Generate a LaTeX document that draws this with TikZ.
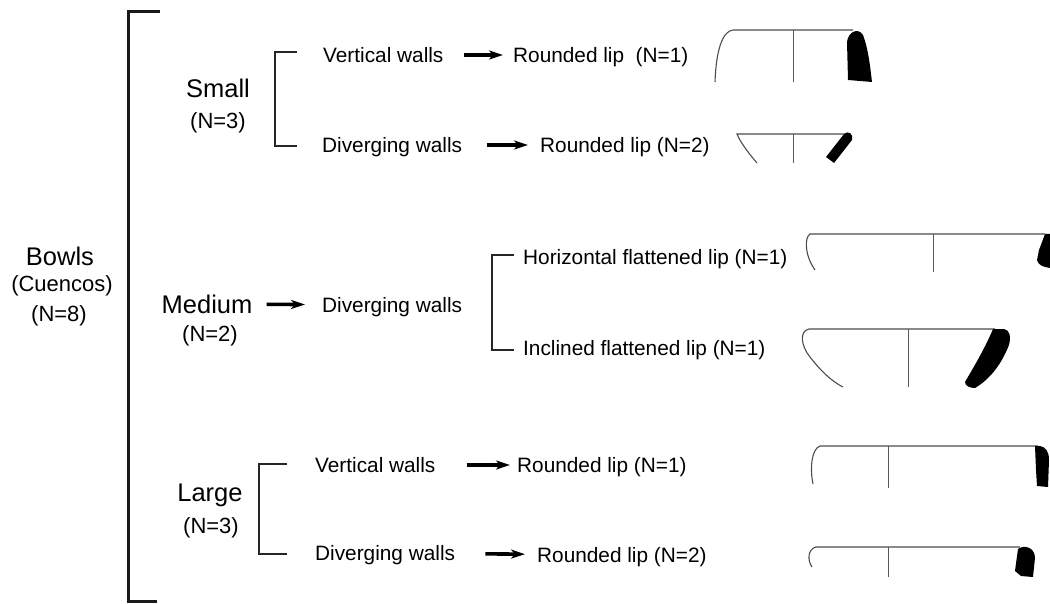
\documentclass[tikz,border=0pt]{standalone}
\usepackage{fontspec}
\setmainfont{Liberation Sans}
\usetikzlibrary{arrows.meta}
\tikzset{
	grp/.style={font=\fontsize{25.5}{28}\selectfont, inner sep=0pt, text height=18.3pt, text depth=0pt},
	cnt/.style={font=\fontsize{22}{25}\selectfont, inner sep=0pt, text height=15.8pt, text depth=0pt},
	lbl/.style={font=\fontsize{20.8}{24}\selectfont, inner sep=0pt, text height=14.9pt, text depth=0pt, anchor=west},
	arr/.style={line width=3.6pt, -{Stealth[length=14pt, width=9pt, inset=4pt]}},
	brk/.style={line width=1.8pt, color=black!85},
	bigbrk/.style={line width=3pt, color=black!90},
	wall/.style={line width=1.1pt, color=black!70},
	axis/.style={line width=0.9pt, color=black!65},
	sherd/.style={fill=black}
}
\begin{document}
\begin{tikzpicture}[x=1pt, y=-1pt]
		%%%%% START %%%%%
		\useasboundingbox (0, 0) rectangle (1050, 604);
		
		\node[grp] (bowls) at (60, 256) {Bowls};
		\node[cnt] (cuencos) at (62, 284) {(Cuencos)};
		\node[cnt] (bowlsN) at (59, 314) {(N=8)};
		\draw[bigbrk] (160, 12) -| (128, 601) -- (157, 601);
		
		\node[grp] (small) at (218, 88) {Small};
		\node[cnt] (smallN) at (218, 121) {(N=3)};
		\node[grp] (medium) at (207, 304) {Medium};
		\node[cnt] (mediumN) at (210, 334) {(N=2)};
		\node[grp] (large) at (210, 492) {Large};
		\node[cnt] (largeN) at (211, 526) {(N=3)};
		
		\node[lbl] (svw) at (323, 55) {Vertical walls};
		\node[lbl] (srl1) at (513, 55) {Rounded lip\ \ (N=1)};
		\node[lbl] (sdw) at (322, 145) {Diverging walls};
		\node[lbl] (srl2) at (540, 145) {Rounded lip (N=2)};
		\draw[brk] ([xshift=-26pt, yshift=3pt]svw.west) -- ++(-22, 0) |- ([xshift=-25pt, yshift=-1pt]sdw.west);
		\draw[arr, shorten <=20pt, shorten >=10pt] (svw) -- (srl1);
		\draw[arr, shorten <=25pt, shorten >=12pt] (sdw) -- (srl2);
		
		\node[lbl] (mdw) at (322, 305) {Diverging walls};
		\node[lbl] (mhl) at (523, 257) {Horizontal flattened lip (N=1)};
		\node[lbl] (mil) at (523, 348) {Inclined flattened lip (N=1)};
		\draw[arr, shorten <=14pt, shorten >=17pt] (medium) -- (mdw);
		\draw[brk] ([xshift=-9pt, yshift=2pt]mhl.west) -- ++(-22, 0) |- ([xshift=-9pt, yshift=-2pt]mil.west);
		
		\node[lbl] (lvw) at (315, 465) {Vertical walls};
		\node[lbl] (lrl1) at (517, 465) {Rounded lip (N=1)};
		\node[lbl] (ldw) at (315, 553) {Diverging walls};
		\node[lbl] (lrl2) at (537, 555) {Rounded lip (N=2)};
		\draw[brk] ([xshift=-28pt, yshift=1pt]lvw.west) -- ++(-28, 0) |- ([xshift=-28pt, yshift=-1pt]ldw.west);
		\draw[arr, shorten <=31pt, shorten >=7pt] (lvw) -- (lrl1);
		\draw[arr, shorten <=30pt, shorten >=12pt] (ldw) -- (lrl2);
		
		% sherd profiles
		\draw[wall] (853, 30) -- (733, 30) .. controls (722, 31) and (716, 52) .. (715, 82);
		\draw[axis] (793, 30) -- (793, 82);
		\fill[sherd] (848, 80) -- (847, 42) .. controls (848, 32) and (858, 27) .. (863, 35) .. controls (868, 48) and (870, 65) .. (872, 82) -- cycle;
		
		\draw[wall] (848, 134) -- (737, 134) .. controls (740, 142) and (750, 155) .. (757, 163);
		\draw[axis] (793, 134) -- (793, 163);
		\fill[sherd] (844, 134) .. controls (848, 130) and (854, 134) .. (852, 140) -- (834, 163) -- (826, 157) -- cycle;
		
		\draw[wall] (1045, 234) -- (810, 234) .. controls (804, 238) and (805, 256) .. (815, 270);
		\draw[axis] (933, 234) -- (933, 272);
		\fill[sherd] (1045, 234) -- (1050, 234) -- (1050, 268) .. controls (1043, 267) and (1038, 265) .. (1037, 260) -- (1039, 250) -- cycle;
		
		\draw[wall] (995, 329) -- (809, 329) .. controls (799, 331) and (801, 346) .. (810, 357) .. controls (820, 370) and (831, 381) .. (843, 387);
		\draw[axis] (908, 329) -- (908, 387);
		\fill[sherd] (993, 329) -- (1004, 329) .. controls (1010, 330) and (1011, 337) .. (1009, 345) .. controls (1001, 365) and (990, 379) .. (975, 388) .. controls (970, 388) and (965, 386) .. (965, 382) .. controls (975, 365) and (985, 348) .. (993, 329) -- cycle;
		
		\draw[wall] (1038, 446) -- (820, 446) .. controls (811, 449) and (810, 470) .. (813, 484);
		\draw[axis] (888, 446) -- (888, 488);
		\fill[sherd] (1035, 446) -- (1040, 446) .. controls (1046, 447) and (1049, 452) .. (1049, 460) -- (1048, 487) -- (1037, 486) -- (1036, 470) -- cycle;
		
		\draw[wall] (1020, 547) -- (816, 547) .. controls (808, 549) and (807, 560) .. (812, 567);
		\draw[axis] (888, 547) -- (888, 577);
		\fill[sherd] (1018, 549) .. controls (1025, 544) and (1035, 548) .. (1035, 558) -- (1033, 577) -- (1021, 576) -- (1015, 571) -- (1017, 556) -- cycle;
		
		%%%%% END %%%%%
\end{tikzpicture}
\end{document}
